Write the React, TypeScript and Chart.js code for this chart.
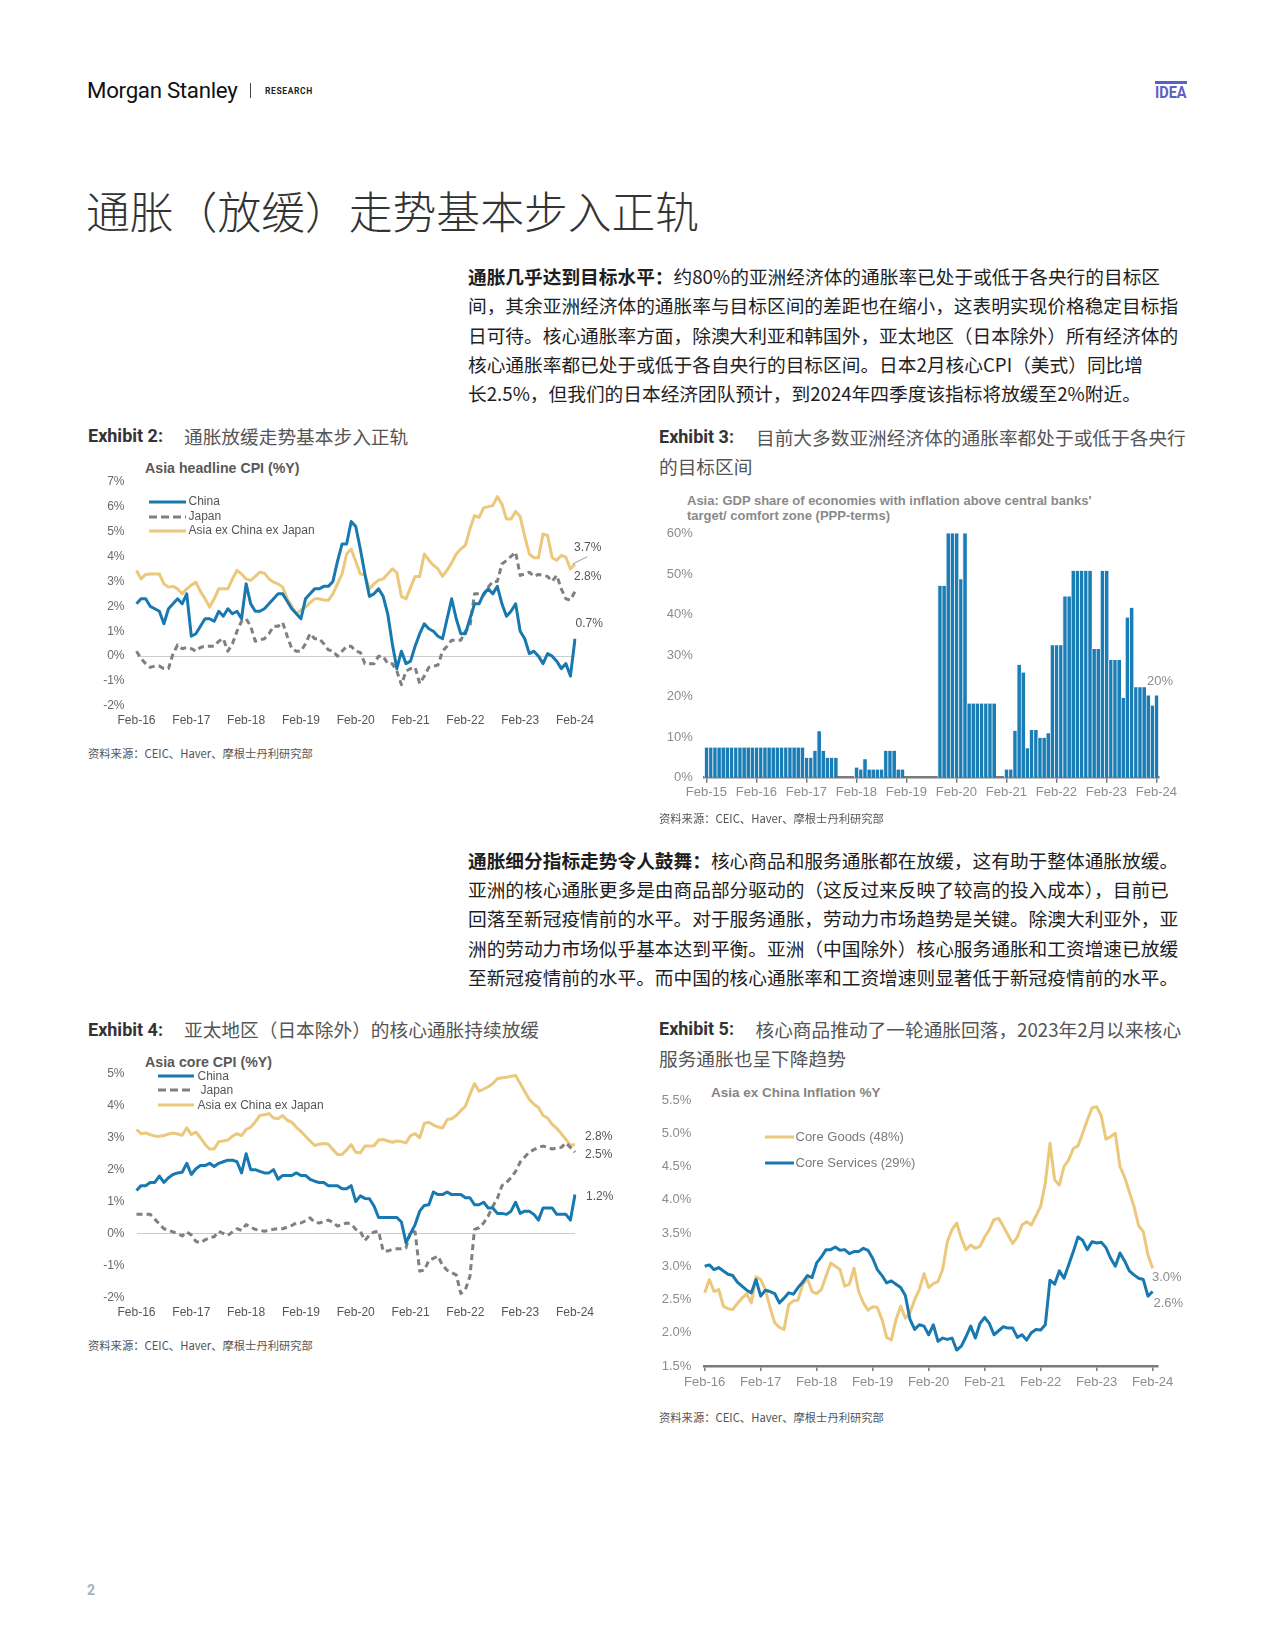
import React, { useEffect, useRef } from 'react';
import { Chart, registerables } from 'chart.js';

Chart.register(...registerables);

// ---------------- categories ----------------
const MONTH_NAMES = ['Jan', 'Feb', 'Mar', 'Apr', 'May', 'Jun', 'Jul', 'Aug', 'Sep', 'Oct', 'Nov', 'Dec'];
function monthRange(startYear: number, startMonth: number, count: number): string[] {
  const out: string[] = [];
  for (let i = 0; i < count; i++) {
    const m = startMonth + i;
    const y = startYear + Math.floor(m / 12);
    out.push(MONTH_NAMES[m % 12] + '-' + String(y % 100).padStart(2, '0'));
  }
  return out;
}
const cpiMonths = monthRange(2016, 1, 97); // Feb-16 .. Feb-24
const inflationMonths = monthRange(2016, 1, 98); // Feb-16 .. Mar-24 (axis end)
const shareMonths = monthRange(2015, 1, 109); // Feb-15 .. Feb-24

// ---------------- Exhibit 2: Asia headline CPI (%Y) ----------------
const headlineChina = [
  2.1, 2.3, 2.3, 2.0, 1.9, 1.8, 1.3, 1.9, 2.1, 2.3, 2.1,
  2.5, 0.8, 0.9, 1.2, 1.5, 1.5, 1.4, 1.8, 1.6, 1.9, 1.7, 1.8,
  1.5, 2.9, 2.1, 1.8, 1.8, 1.9, 2.1, 2.3, 2.5, 2.5, 2.2, 1.9,
  1.7, 1.5, 2.3, 2.5, 2.7, 2.7, 2.8, 2.8, 3.0, 3.8, 4.5, 4.5,
  5.4, 5.2, 4.3, 3.3, 2.4, 2.5, 2.7, 2.4, 1.7, 0.5, -0.5, 0.2,
  -0.3, -0.2, 0.4, 0.9, 1.3, 1.1, 1.0, 0.8, 0.7, 1.5, 2.3, 1.5,
  0.9, 0.9, 1.5, 2.1, 2.1, 2.5, 2.7, 2.5, 2.8, 2.1, 1.6, 1.8,
  2.1, 1.0, 0.7, 0.1, 0.2, 0.0, -0.3, 0.1, 0.0, -0.2, -0.5, -0.3,
  -0.8, 0.7,
];
const headlineJapan = [
  0.2, -0.1, -0.3, -0.45, -0.4, -0.4, -0.5, -0.5, 0.1, 0.45, 0.3,
  0.35, 0.3, 0.2, 0.35, 0.4, 0.4, 0.4, 0.6, 0.7, 0.2, 0.5, 1.0,
  1.4, 1.5, 1.2, 0.6, 0.65, 0.7, 0.9, 1.2, 1.2, 1.35, 0.8, 0.3,
  0.2, 0.2, 0.5, 0.9, 0.7, 0.7, 0.5, 0.25, 0.2, 0.0, 0.2, 0.4,
  0.4, 0.2, 0.15, -0.3, -0.3, -0.3, 0.0, 0.0, -0.3, -0.3, -0.6, -1.15,
  -0.6, -0.5, -0.45, -1.1, -0.8, -0.45, -0.4, -0.36, 0.2, 0.4, 0.64, 0.64,
  0.64, 1.0, 1.2, 2.5, 2.5, 2.44, 2.77, 3.0, 3.0, 3.7, 3.84, 4.0,
  4.17, 3.24, 3.3, 3.37, 3.2, 3.28, 3.24, 3.2, 3.0, 3.24, 2.7, 2.3,
  2.25, 2.6,
];
const headlineAxj = [
  3.44, 3.1, 3.28, 3.3, 3.3, 3.3, 2.9, 2.77, 2.8, 2.7, 2.5,
  2.7, 2.85, 2.97, 2.6, 2.3, 1.97, 2.3, 2.7, 2.7, 2.7, 3.1, 3.44,
  3.3, 3.1, 3.04, 3.2, 3.37, 3.33, 3.1, 2.97, 2.9, 2.77, 2.3, 2.0,
  1.7, 1.85, 1.97, 2.15, 2.3, 2.3, 2.25, 2.24, 2.5, 2.9, 3.3, 4.1,
  4.3, 3.8, 3.3, 3.25, 2.7, 2.9, 3.05, 3.1, 3.3, 3.5, 3.35, 2.4,
  2.3, 2.75, 3.2, 3.2, 4.1, 3.85, 3.65, 3.5, 3.2, 3.45, 3.75, 4.1,
  4.3, 4.45, 5.1, 5.64, 5.57, 5.95, 6.0, 6.04, 6.4, 6.1, 5.5, 5.5,
  5.8, 5.6, 4.8, 4.1, 3.95, 3.95, 4.9, 4.84, 3.95, 3.85, 4.04, 3.97,
  3.5, 3.7,
];
const headlineTicks = [-2, -1, 0, 1, 2, 3, 4, 5, 6, 7];

// ---------------- Exhibit 3: GDP share above target (%) ----------------
const shareAbove = [
  7.4, 7.4, 7.4, 7.4, 7.4, 7.4, 7.4, 7.4, 7.4, 7.4, 7.4, 7.4,
  7.4, 7.4, 7.4, 7.4, 7.4, 7.4, 7.4, 7.4, 7.4, 7.4, 7.4, 7.4,
  4.9, 4.9, 6.6, 11.4, 6.6, 4.9, 4.9, 4.9, 0, 0, 0, 0,
  2.5, 2.0, 4.5, 2.0, 2.0, 2.0, 2.0, 6.6, 6.6, 6.6, 2.0, 2.0,
  0, 0, 0, 0, 0, 0, 0, 0, 47.1, 47.1, 60, 60,
  60, 48.7, 60, 18.2, 18.2, 18.2, 18.2, 18.2, 18.2, 18.2, 0, 0,
  2.0, 2.0, 11.5, 27.7, 25.8, 7.2, 11.7, 11.7, 9.8, 9.8, 10.9, 32.5,
  32.5, 32.5, 44.5, 44.5, 50.8, 50.8, 50.8, 50.8, 50.8, 31.6, 31.6, 50.8,
  50.8, 28.9, 28.9, 28.9, 19.6, 39.3, 41.7, 22.2, 22.2, 22.2, 20.2, 17.7,
  20.2,
];

// ---------------- Exhibit 4: Asia core CPI (%Y) ----------------
const coreChina = [
  1.35, 1.5, 1.5, 1.6, 1.6, 1.8, 1.6, 1.75, 1.85, 1.9, 1.92,
  2.2, 1.85, 2.03, 2.13, 2.13, 2.2, 2.1, 2.2, 2.25, 2.3, 2.3, 2.25,
  1.9, 2.5, 2.0, 2.0, 1.95, 1.9, 1.9, 2.0, 1.7, 1.82, 1.82, 1.82,
  1.9, 1.82, 1.82, 1.7, 1.64, 1.6, 1.6, 1.5, 1.5, 1.5, 1.4, 1.4,
  1.5, 1.0, 1.18, 1.1, 1.09, 0.86, 0.5, 0.5, 0.5, 0.5, 0.5, 0.36,
  -0.29, 0.0, 0.28, 0.7, 0.88, 0.9, 1.3, 1.22, 1.22, 1.3, 1.22, 1.22,
  1.22, 1.12, 1.12, 0.9, 0.9, 0.98, 0.8, 0.8, 0.63, 0.63, 0.6, 0.7,
  0.98, 0.63, 0.7, 0.7, 0.6, 0.42, 0.8, 0.8, 0.8, 0.6, 0.6, 0.6,
  0.42, 1.22,
];
const coreJapan = [
  0.6, 0.6, 0.6, 0.6, 0.45, 0.3, 0.15, 0.1, 0.05, 0.0, -0.08,
  0.05, -0.05, -0.25, -0.29, -0.2, -0.14, -0.1, 0.07, 0.0, -0.06, 0.05, 0.15,
  0.1, 0.28, 0.2, 0.13, 0.1, 0.07, 0.1, 0.13, 0.15, 0.15, 0.2, 0.25,
  0.33, 0.33, 0.4, 0.49, 0.35, 0.33, 0.38, 0.42, 0.35, 0.23, 0.28, 0.33,
  0.3, 0.13, 0.07, -0.22, -0.05, 0.05, 0.07, -0.55, -0.55, -0.5, -0.48, -0.48,
  -0.45, 0.07, 0.05, -1.18, -1.15, -0.85, -0.78, -0.71, -1.0, -1.15, -1.23, -1.3,
  -1.88, -1.76, -1.34, 0.13, 0.18, 0.33, 0.55, 0.85, 1.1, 1.5, 1.6, 1.75,
  1.95, 2.24, 2.4, 2.55, 2.63, 2.7, 2.74, 2.7, 2.65, 2.68, 2.7, 2.84,
  2.7, 2.55,
];
const coreAxj = [
  3.26, 3.13, 3.15, 3.1, 3.05, 3.05, 3.07, 3.12, 3.15, 3.12, 3.08,
  3.31, 3.1, 3.18, 3.0, 2.8, 2.65, 2.65, 2.88, 2.9, 2.93, 3.05, 3.13,
  3.07, 3.26, 3.33, 3.5, 3.7, 3.72, 3.76, 3.62, 3.6, 3.7, 3.55, 3.49,
  3.33, 3.2, 3.05, 2.9, 2.76, 2.8, 2.82, 2.8, 2.63, 2.48, 2.48, 2.62,
  2.79, 2.55, 2.53, 2.74, 2.74, 2.75, 2.93, 2.95, 2.9, 2.86, 2.9, 2.88,
  2.84, 3.07, 3.13, 3.0, 3.45, 3.49, 3.4, 3.34, 3.31, 3.57, 3.6, 3.7,
  3.85, 3.99, 4.36, 4.7, 4.46, 4.53, 4.6, 4.7, 4.85, 4.88, 4.9, 4.93,
  4.95, 4.7, 4.45, 4.2, 4.05, 3.95, 3.7, 3.62, 3.42, 3.3, 3.13, 2.95,
  2.76, 2.79,
];

// ---------------- Exhibit 5: Asia ex China inflation %Y ----------------
const coreGoods = [
  2.6, 2.8, 2.62, 2.65, 2.4, 2.36, 2.35, 2.44, 2.52, 2.59, 2.45, 2.84,
  2.8, 2.65, 2.38, 2.15, 2.08, 2.05, 2.42, 2.48, 2.49, 2.72, 2.82, 2.62,
  2.59, 2.65, 2.85, 3.05, 3.0, 2.95, 2.7, 2.73, 2.97, 2.62, 2.45, 2.34,
  2.39, 2.38, 2.2, 1.93, 1.89, 2.2, 2.4, 2.22, 2.3, 2.5, 2.65, 2.89,
  2.68, 2.74, 2.77, 2.95, 3.37, 3.55, 3.65, 3.42, 3.25, 3.32, 3.27, 3.3,
  3.44, 3.55, 3.7, 3.72, 3.6, 3.47, 3.34, 3.44, 3.62, 3.67, 3.62, 3.76,
  3.9, 4.25, 4.85, 4.3, 4.22, 4.5, 4.6, 4.77, 4.81, 5.0, 5.2, 5.38,
  5.4, 5.26, 4.91, 4.95, 5.0, 4.5, 4.34, 4.12, 3.9, 3.61, 3.52, 3.17,
  2.97,
];
const coreServices = [
  3.0, 3.02, 2.95, 2.98, 2.93, 2.88, 2.86, 2.76, 2.7, 2.64, 2.6, 2.8,
  2.55, 2.64, 2.62, 2.59, 2.45, 2.52, 2.6, 2.58, 2.68, 2.76, 2.86, 2.83,
  3.05, 3.14, 3.25, 3.25, 3.29, 3.24, 3.25, 3.19, 3.22, 3.22, 3.27, 3.24,
  3.12, 2.95, 2.86, 2.75, 2.78, 2.73, 2.68, 2.56, 2.2, 2.05, 2.12, 2.1,
  1.97, 2.12, 1.87, 1.92, 1.9, 1.92, 1.74, 1.8, 1.94, 2.1, 1.92, 2.14,
  2.23, 2.14, 1.97, 2.03, 2.09, 2.07, 2.07, 1.93, 1.97, 1.89, 2.0, 2.05,
  2.04, 2.12, 2.79, 2.73, 2.93, 2.82, 3.02, 3.22, 3.44, 3.39, 3.25, 3.37,
  3.35, 3.36, 3.28, 3.12, 3.0, 3.2, 3.08, 2.93, 2.87, 2.82, 2.8, 2.55,
  2.62,
];

// ---------------- styling ----------------
const BLUE = '#1878b0';
const BAR_BLUE = '#1a7db5';
const GOLD = '#ebc87b';
const GREY = '#808080';
const SANS = '"Liberation Sans", Arial, Helvetica, sans-serif';
const CJK = '"Noto Sans CJK SC", "Noto Sans", sans-serif';
const ROBOTO = 'Roboto, "Liberation Sans", Arial, sans-serif';

Chart.defaults.font.family = SANS;

const febTicks = (scale: any) => {
  const labels = scale.chart.data.labels as string[];
  scale.ticks = scale.ticks.filter((t: any) => String(labels[t.value]).startsWith('Feb'));
};

const zeroLine = (c: any) => (c.tick && c.tick.value === 0 ? '#cccccc' : 'rgba(0,0,0,0)');

const fixY = (w: number) => (s: any) => {
  s.width = w;
  s.paddingTop = 0;
  s.paddingBottom = 0;
};

function cpiOptions(min: number, max: number, padTop: number, xHeight: number, xPad: number) {
  return {
    animation: false,
    responsive: false,
    devicePixelRatio: 1,
    layout: { padding: { left: 0, right: 29, top: padTop, bottom: 0 } },
    plugins: { legend: { display: false }, tooltip: { enabled: false }, title: { display: false } },
    scales: {
      x: {
        type: 'category',
        offset: false,
        grid: { display: false, drawTicks: false },
        border: { display: false },
        ticks: { autoSkip: false, maxRotation: 0, minRotation: 0, padding: xPad, color: '#555555', font: { family: SANS, size: 12 } },
        afterBuildTicks: febTicks,
        afterFit: (s: any) => { s.height = xHeight; },
      },
      y: {
        type: 'linear',
        min,
        max,
        grid: { drawTicks: false, color: zeroLine, lineWidth: 1 },
        border: { display: false },
        ticks: { stepSize: 1, padding: 12, color: '#6a6a6a', font: { family: SANS, size: 12 }, callback: (v: any) => v + '%' },
        afterFit: fixY(52.5),
      },
    },
  };
}

const lineDs = (label: string, data: number[], color: string, dash?: number[]) => ({
  label,
  data,
  borderColor: color,
  backgroundColor: color,
  borderWidth: 3,
  borderDash: dash || [],
  pointRadius: 0,
  tension: 0,
  fill: false,
  borderJoinStyle: 'round',
});

const headlineConfig = () => ({
  type: 'line',
  data: {
    labels: cpiMonths,
    datasets: [
      lineDs('China', headlineChina, BLUE),
      lineDs('Japan', headlineJapan, GREY, [6, 4]),
      lineDs('Asia ex China ex Japan', headlineAxj, GOLD),
    ],
  },
  options: cpiOptions(headlineTicks[0], headlineTicks[headlineTicks.length - 1], 11.7, 26, 7),
});

const coreConfig = () => ({
  type: 'line',
  data: {
    labels: cpiMonths,
    datasets: [
      lineDs('China', coreChina, BLUE),
      lineDs('Japan', coreJapan, GREY, [6, 4]),
      lineDs('Asia ex China ex Japan', coreAxj, GOLD),
    ],
  },
  options: cpiOptions(-2, 5, 12, 26.7, 8),
});

const shareConfig = () => ({
  type: 'bar',
  data: {
    labels: shareMonths,
    datasets: [
      {
        label: 'Share above target',
        data: shareAbove,
        backgroundColor: BAR_BLUE,
        borderColor: '#d9eaf5',
        borderWidth: { left: 1, right: 0, top: 0, bottom: 0 },
        borderSkipped: false,
        barPercentage: 1,
        categoryPercentage: 1,
      },
    ],
  },
  options: {
    animation: false,
    responsive: false,
    devicePixelRatio: 1,
    layout: { padding: { left: 0, right: 33.5, top: 11.3, bottom: 0 } },
    plugins: { legend: { display: false }, tooltip: { enabled: false } },
    scales: {
      x: {
        type: 'category',
        offset: true,
        grid: { display: true, offset: false, drawOnChartArea: false, drawTicks: true, tickLength: 5, color: '#7a7a7a', lineWidth: 1.5 },
        border: { display: true, color: '#7a7a7a', width: 2.5 },
        ticks: { autoSkip: false, maxRotation: 0, minRotation: 0, padding: 1.5, color: '#8c8c8c', font: { family: SANS, size: 13 } },
        afterBuildTicks: febTicks,
        afterFit: (s: any) => { s.height = 34.3; },
      },
      y: {
        min: 0,
        max: 60,
        grid: { display: false, drawTicks: false },
        border: { display: false },
        ticks: { stepSize: 10, padding: 11.6, color: '#8c8c8c', font: { family: SANS, size: 13 }, callback: (v: any) => v + '%' },
        afterFit: fixY(52.3),
      },
    },
  },
});

const inflationConfig = () => ({
  type: 'line',
  data: {
    labels: inflationMonths,
    datasets: [
      lineDs('Core Services (29%)', coreServices, BLUE),
      lineDs('Core Goods (48%)', coreGoods, GOLD),
    ],
  },
  options: {
    animation: false,
    responsive: false,
    devicePixelRatio: 1,
    layout: { padding: { left: 0, right: 34.7, top: 12, bottom: 0 } },
    plugins: { legend: { display: false }, tooltip: { enabled: false } },
    scales: {
      x: {
        type: 'category',
        offset: false,
        grid: { display: true, drawOnChartArea: false, drawTicks: true, tickLength: 5, color: '#7a7a7a', lineWidth: 1.5 },
        border: { display: true, color: '#7a7a7a', width: 2.5 },
        ticks: { autoSkip: false, maxRotation: 0, minRotation: 0, padding: 3.5, color: '#8c8c8c', font: { family: SANS, size: 13 } },
        afterBuildTicks: febTicks,
        afterFit: (s: any) => { s.height = 30; },
      },
      y: {
        min: 1.5,
        max: 5.5,
        grid: { display: false, drawTicks: false },
        border: { display: false },
        ticks: { stepSize: 0.5, padding: 13.4, color: '#8c8c8c', font: { family: SANS, size: 13 }, callback: (v: any) => Number(v).toFixed(1) + '%' },
        afterFit: fixY(52.7),
      },
    },
  },
});

// ---------------- components ----------------
function ChartCanvas({ left, top, width, height, config }: any) {
  const ref = useRef<HTMLCanvasElement>(null);
  useEffect(() => {
    const chart = new Chart(ref.current as HTMLCanvasElement, config() as any);
    return () => chart.destroy();
  }, []);
  return (
    <canvas
      ref={ref}
      width={width}
      height={height}
      style={{ position: 'absolute', left, top, width, height }}
    />
  );
}

function T({ x, cy, size, lh, color = '#333', weight = 400, family = CJK, children, style }: any) {
  const L = lh ?? Math.round(size * 1.4);
  return (
    <div
      style={{
        position: 'absolute',
        left: x,
        top: cy - L / 2,
        height: L,
        lineHeight: L + 'px',
        fontSize: size,
        color,
        fontWeight: weight,
        fontFamily: family,
        whiteSpace: 'nowrap',
        ...style,
      }}
    >
      {children}
    </div>
  );
}

function LegendLine({ x, y, w, color, dash }: any) {
  return (
    <svg style={{ position: 'absolute', left: x, top: y - 3, overflow: 'visible' }} width={w} height={6}>
      <line x1={0} y1={3} x2={w} y2={3} stroke={color} strokeWidth={3} strokeDasharray={dash} />
    </svg>
  );
}

function Paragraph({ top, lines }: any) {
  return (
    <>
      {lines.map((ln: any, i: number) => (
        <T key={i} x={468} cy={top + i * 29.2} size={18.7} lh={29} color="#1e1e1e">
          {ln}
        </T>
      ))}
    </>
  );
}

const para1 = [
  <span key="a"><b>通胀几乎达到目标水平：</b>约80%的亚洲经济体的通胀率已处于或低于各央行的目标区</span>,
  '间，其余亚洲经济体的通胀率与目标区间的差距也在缩小，这表明实现价格稳定目标指',
  '日可待。核心通胀率方面，除澳大利亚和韩国外，亚太地区（日本除外）所有经济体的',
  '核心通胀率都已处于或低于各自央行的目标区间。日本2月核心CPI（美式）同比增',
  '长2.5%，但我们的日本经济团队预计，到2024年四季度该指标将放缓至2%附近。',
];
const para2 = [
  <span key="b"><b>通胀细分指标走势令人鼓舞：</b>核心商品和服务通胀都在放缓，这有助于整体通胀放缓。</span>,
  '亚洲的核心通胀更多是由商品部分驱动的（这反过来反映了较高的投入成本），目前已',
  '回落至新冠疫情前的水平。对于服务通胀，劳动力市场趋势是关键。除澳大利亚外，亚',
  '洲的劳动力市场似乎基本达到平衡。亚洲（中国除外）核心服务通胀和工资增速已放缓',
  '至新冠疫情前的水平。而中国的核心通胀率和工资增速则显著低于新冠疫情前的水平。',
];

const SOURCE = '资料来源：CEIC、Haver、摩根士丹利研究部';

function ExhibitTitle({ x, cy, label, lines, textX }: any) {
  return (
    <>
      <T x={x} cy={cy} size={18} family={ROBOTO} weight={700} color="#333333">{label}</T>
      <T x={textX} cy={cy} size={18.7} color="#555555">{lines[0]}</T>
      {lines[1] ? <T x={x} cy={cy + 29} size={18.7} color="#555555">{lines[1]}</T> : null}
    </>
  );
}

export default function App() {
  return (
    <div style={{ position: 'absolute', left: 0, top: 0, width: 1275, height: 1650, background: '#ffffff', overflow: 'hidden' }}>
      {/* header */}
      <T x={87} cy={90} size={22.3} family={ROBOTO} color="#111111" style={{ letterSpacing: '-0.3px' }}>Morgan Stanley</T>
      <div style={{ position: 'absolute', left: 250, top: 83, width: 1, height: 15, background: '#444' }} />
      <T x={265} cy={91} size={8.5} family={ROBOTO} weight={700} color="#222" style={{ letterSpacing: '0.6px' }}>RESEARCH</T>
      <div style={{ position: 'absolute', left: 1155, top: 81, width: 32, height: 3, background: '#5b60c4' }} />
      <T x={1155} cy={92} size={16.5} family={ROBOTO} weight={700} color="#5b60c4" style={{ transform: 'scaleX(0.88)', transformOrigin: 'left center' }}>IDEA</T>

      {/* title */}
      <T x={86} cy={210} size={43.8} lh={56} weight={300} color="#333333">通胀（放缓）走势基本步入正轨</T>

      <Paragraph top={275.6} lines={para1} />

      {/* Exhibit 2 */}
      <ExhibitTitle x={88} cy={435.7} textX={184} label="Exhibit 2:" lines={['通胀放缓走势基本步入正轨']} />
      <T x={145} cy={468} size={14.2} family={SANS} weight={700} color="#595959">Asia headline CPI (%Y)</T>
      <ChartCanvas left={84} top={470} width={520} height={262} config={headlineConfig} />
      <LegendLine x={149} y={501.7} w={37} color={BLUE} />
      <LegendLine x={149} y={516.7} w={37} color={GREY} dash="8 4" />
      <LegendLine x={149} y={530.7} w={37} color={GOLD} />
      <T x={188.5} cy={501.7} size={12} family={SANS} color="#555">China</T>
      <T x={188.5} cy={516.7} size={12} family={SANS} color="#555">Japan</T>
      <T x={188.5} cy={530.7} size={12} family={SANS} color="#555">Asia ex China ex Japan</T>
      <T x={574} cy={547.7} size={12} family={SANS} color="#555">3.7%</T>
      <T x={574} cy={576} size={12} family={SANS} color="#555">2.8%</T>
      <T x={575.5} cy={623} size={12} family={SANS} color="#555">0.7%</T>
      <svg style={{ position: 'absolute', left: 0, top: 0, overflow: 'visible' }} width={1} height={1}>
        <line x1={572.7} y1={564} x2={587.3} y2={556.7} stroke="#9a9a9a" strokeWidth={1} />
      </svg>
      <T x={88} cy={753.3} size={11.3} color="#555">{SOURCE}</T>

      {/* Exhibit 3 */}
      <ExhibitTitle x={659} cy={436.5} textX={756} label="Exhibit 3:" lines={['目前大多数亚洲经济体的通胀率都处于或低于各央行', '的目标区间']} />
      <T x={687} cy={500.7} size={13} family={SANS} weight={700} color="#8a8a8a">Asia: GDP share of economies with inflation above central banks'</T>
      <T x={687} cy={515.7} size={13} family={SANS} weight={700} color="#8a8a8a">target/ comfort zone (PPP-terms)</T>
      <ChartCanvas left={652} top={522} width={540} height={290} config={shareConfig} />
      <T x={1147} cy={681} size={13} family={SANS} color="#8c8c8c">20%</T>
      <T x={659} cy={818.3} size={11.3} color="#555">{SOURCE}</T>

      <Paragraph top={859.5} lines={para2} />

      {/* Exhibit 4 */}
      <ExhibitTitle x={88} cy={1029} textX={184} label="Exhibit 4:" lines={['亚太地区（日本除外）的核心通胀持续放缓']} />
      <T x={145} cy={1061.7} size={14.2} family={SANS} weight={700} color="#595959">Asia core CPI (%Y)</T>
      <ChartCanvas left={84} top={1062} width={520} height={262} config={coreConfig} />
      <LegendLine x={158} y={1076} w={36} color={BLUE} />
      <LegendLine x={158} y={1090} w={36} color={GREY} dash="8 4" />
      <LegendLine x={158} y={1105} w={36} color={GOLD} />
      <T x={197.5} cy={1076} size={12} family={SANS} color="#555">China</T>
      <T x={200.5} cy={1090} size={12} family={SANS} color="#555">Japan</T>
      <T x={197.5} cy={1105} size={12} family={SANS} color="#555">Asia ex China ex Japan</T>
      <T x={585} cy={1136} size={12} family={SANS} color="#555">2.8%</T>
      <T x={585} cy={1154.3} size={12} family={SANS} color="#555">2.5%</T>
      <T x={586} cy={1196} size={12} family={SANS} color="#555">1.2%</T>
      <T x={88} cy={1345} size={11.3} color="#555">{SOURCE}</T>

      {/* Exhibit 5 */}
      <ExhibitTitle x={659} cy={1028.5} textX={755.5} label="Exhibit 5:" lines={['核心商品推动了一轮通胀回落，2023年2月以来核心', '服务通胀也呈下降趋势']} />
      <T x={711} cy={1092} size={13.5} family={SANS} weight={700} color="#858585">Asia ex China Inflation %Y</T>
      <ChartCanvas left={652} top={1088} width={540} height={308} config={inflationConfig} />
      <LegendLine x={765} y={1136.7} w={29} color={GOLD} />
      <LegendLine x={765} y={1163.3} w={29} color={BLUE} />
      <T x={795.5} cy={1136.7} size={13} family={SANS} color="#7a7a7a">Core Goods (48%)</T>
      <T x={795.5} cy={1163.3} size={13} family={SANS} color="#7a7a7a">Core Services (29%)</T>
      <T x={1152} cy={1276.7} size={13} family={SANS} color="#8c8c8c">3.0%</T>
      <T x={1153.5} cy={1302.7} size={13} family={SANS} color="#8c8c8c">2.6%</T>
      <T x={659} cy={1416.7} size={11.3} color="#555">{SOURCE}</T>

      {/* page number */}
      <T x={87} cy={1590} size={14} family={ROBOTO} weight={700} color="#a7b3c0">2</T>
    </div>
  );
}
